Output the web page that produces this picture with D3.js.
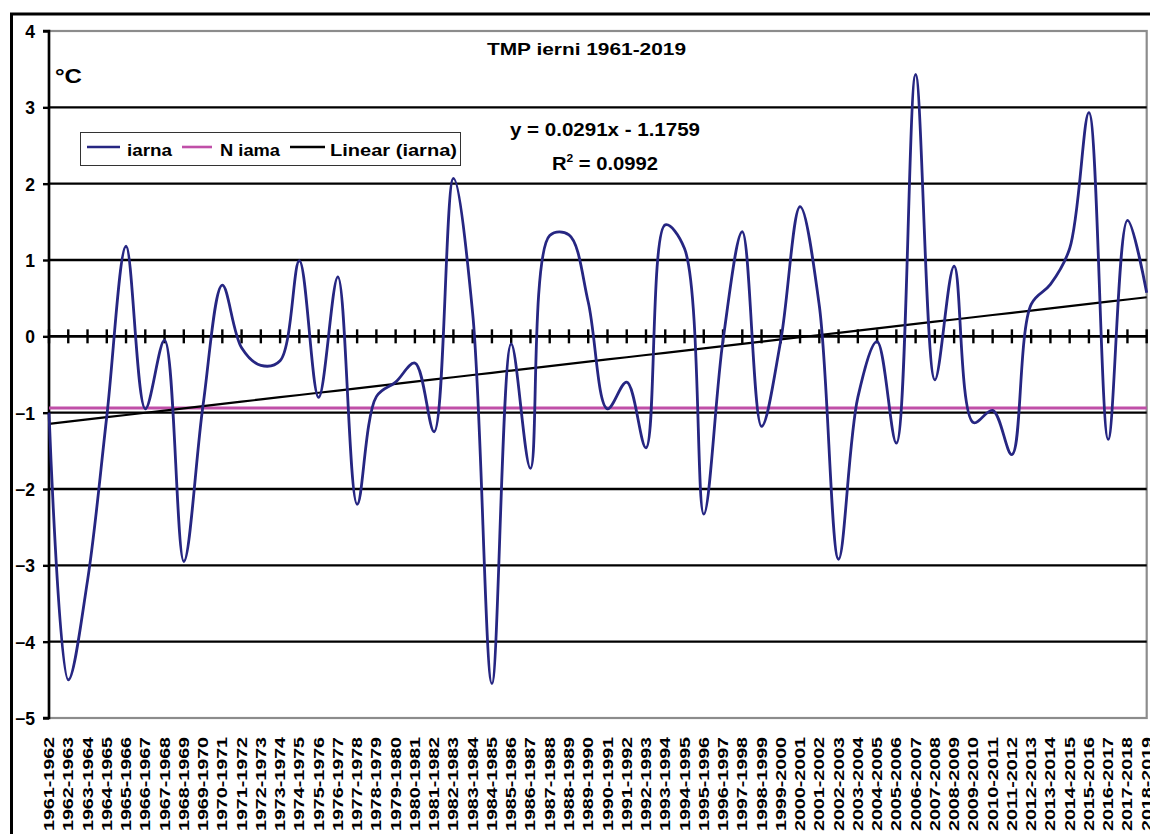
<!DOCTYPE html>
<html><head><meta charset="utf-8">
<script src="https://cdn.jsdelivr.net/npm/d3@7"></script>
<style>
html,body{margin:0;padding:0;background:#fff;}
svg text{font-family:"Liberation Sans",Arial,sans-serif;font-weight:bold;fill:#000;}
</style></head><body>
<svg id="c" width="1150" height="834"></svg>
<script>
const categories = ["1961-1962","1962-1963","1963-1964","1964-1965","1965-1966","1966-1967","1967-1968","1968-1969","1969-1970","1970-1971","1971-1972","1972-1973","1973-1974","1974-1975","1975-1976","1976-1977","1977-1978","1978-1979","1979-1980","1980-1981","1981-1982","1982-1983","1983-1984","1984-1985","1985-1986","1986-1987","1987-1988","1988-1989","1989-1990","1990-1991","1991-1992","1992-1993","1993-1994","1994-1995","1995-1996","1996-1997","1997-1998","1998-1999","1999-2000","2000-2001","2001-2002","2002-2003","2003-2004","2004-2005","2005-2006","2006-2007","2007-2008","2008-2009","2009-2010","2010-2011","2011-2012","2012-2013","2013-2014","2014-2015","2015-2016","2016-2017","2017-2018","2018-2019"];
const iarna = [-1.0,-4.5,-3.2,-1.05,1.18,-0.95,-0.05,-2.95,-0.9,0.67,-0.15,-0.38,-0.32,0.99,-0.8,0.78,-2.2,-0.79,-0.6,-0.35,-1.25,2.07,0.3,-4.55,-0.1,-1.73,1.32,1.33,0.45,-0.95,-0.6,-1.46,1.46,1.15,-2.33,-0.05,1.37,-1.18,-0.05,1.7,0.4,-2.92,-0.8,-0.07,-1.4,3.43,-0.57,0.92,-1.13,-0.97,-1.55,0.42,0.68,1.15,2.93,-1.35,1.52,0.57];
const nIarna = -0.94;
const trendSlope = 0.0291, trendIntercept = -1.1759;
const yTicks = [4,3,2,1,0,-1,-2,-3,-4,-5];
const legendLabels = ["iarna","N iama","Linear (iarna)"];
const titleText = "TMP ierni 1961-2019";
const unitText = "°C";
const eqText = "y = 0.0291x - 1.1759";
const r2Value = "0.0992";

const svg = d3.select("#c");
const L = 49, R = 1146.7, T = 31, B = 718;
const x = d3.scalePoint().domain(categories).range([L, R]);
const y = d3.scaleLinear().domain([-5, 4]).range([B, T]);

// outer border
svg.append("rect").attr("x",11.5).attr("y",14).attr("width",1160).attr("height",860)
  .attr("fill","none").attr("stroke","#000").attr("stroke-width",3);

// plot border (gray)
svg.append("rect").attr("x",L).attr("y",T).attr("width",R-L).attr("height",B-T)
  .attr("fill","none").attr("stroke","#8c8c8c").attr("stroke-width",2.2);

// gridlines
svg.append("g").selectAll("line").data(yTicks.filter(d=>d!==4 && d!==-5 && d!==0)).join("line")
  .attr("x1",L).attr("x2",R).attr("y1",d=>y(d)).attr("y2",d=>y(d))
  .attr("stroke","#000").attr("stroke-width",2.4);

// y axis
const ya = d3.axisLeft(y).tickValues(yTicks).tickSize(6).tickPadding(9).tickFormat(d3.format("d"));
const gy = svg.append("g").attr("transform",`translate(${L},0)`).call(ya);
gy.select(".domain").attr("stroke","#000").attr("stroke-width",2.6).attr("d",`M-6,${T}H0V${B}H-6`);
gy.selectAll(".tick line").attr("stroke","#000").attr("stroke-width",2.4);
gy.selectAll(".tick text").attr("font-size",17.5).attr("font-family","Liberation Sans, Arial, sans-serif")
  .attr("font-weight","bold").attr("fill","#000").attr("dy","0.38em").attr("x",-14);

// zero axis with crossing ticks
const gx = svg.append("g").attr("transform",`translate(0,${y(0)})`);
gx.append("line").attr("x1",L).attr("x2",R).attr("stroke","#000").attr("stroke-width",2.6);
gx.selectAll("line.t").data(categories).join("line").attr("class","t")
  .attr("x1",d=>x(d)).attr("x2",d=>x(d)).attr("y1",-7).attr("y2",7)
  .attr("stroke","#000").attr("stroke-width",2.4);

// category labels
svg.append("g").selectAll("text").data(categories).join("text")
  .attr("transform",d=>`translate(${x(d)},737) rotate(-90)`)
  .attr("text-anchor","end").attr("dy","0.36em").attr("font-size",14)
  .attr("textLength",94).attr("lengthAdjust","spacingAndGlyphs").text(d=>d);

// N iama line
svg.append("line").attr("x1",L).attr("x2",R).attr("y1",y(nIarna)).attr("y2",y(nIarna))
  .attr("stroke","#c04fa8").attr("stroke-width",3);

// trend line
const trend = categories.map((c,i)=>[c, trendSlope*(i+1)+trendIntercept]);
svg.append("path").datum(trend)
  .attr("d", d3.line().x(d=>x(d[0])).y(d=>y(d[1])))
  .attr("fill","none").attr("stroke","#000").attr("stroke-width",2.2);

// iarna series
svg.append("path").datum(iarna)
  .attr("d", d3.line().x((d,i)=>x(categories[i])).y(d=>y(d)).curve(d3.curveCatmullRom.alpha(0.5)))
  .attr("fill","none").attr("stroke","#262682").attr("stroke-width",2.8).attr("stroke-linejoin","round");

// title & unit
svg.append("text").attr("x",487).attr("y",55).attr("font-size",17).attr("textLength",199)
  .attr("lengthAdjust","spacingAndGlyphs").text(titleText);
svg.append("text").attr("x",55).attr("y",83).attr("font-size",21).attr("textLength",27)
  .attr("lengthAdjust","spacingAndGlyphs").text(unitText);

// equation
svg.append("text").attr("x",510).attr("y",136).attr("font-size",18.5).attr("textLength",190)
  .attr("lengthAdjust","spacingAndGlyphs").text(eqText);
const r2 = svg.append("text").attr("x",552).attr("y",170).attr("font-size",18.5).attr("textLength",106)
  .attr("lengthAdjust","spacingAndGlyphs");
r2.append("tspan").text("R");
r2.append("tspan").attr("dy",-8).attr("font-size",11).text("2");
r2.append("tspan").attr("dy",8).text(" = " + r2Value);

// legend
svg.append("rect").attr("x",80.5).attr("y",132.5).attr("width",380).attr("height",33)
  .attr("fill","#fff").attr("stroke","#333").attr("stroke-width",1);
const legItems = [
  {label:legendLabels[0], color:"#262682", x1:87, x2:120, tx:127, tw:45},
  {label:legendLabels[1], color:"#c04fa8", x1:182, x2:212, tx:220, tw:60},
  {label:legendLabels[2], color:"#000", x1:290, x2:325, tx:330, tw:127}
];
const lg = svg.append("g");
lg.selectAll("line").data(legItems).join("line")
  .attr("x1",d=>d.x1).attr("x2",d=>d.x2).attr("y1",147).attr("y2",147)
  .attr("stroke",d=>d.color).attr("stroke-width",2.6);
lg.selectAll("text").data(legItems).join("text")
  .attr("x",d=>d.tx).attr("y",156).attr("font-size",17).attr("textLength",d=>d.tw)
  .attr("lengthAdjust","spacingAndGlyphs").text(d=>d.label);
</script>
</body></html>
